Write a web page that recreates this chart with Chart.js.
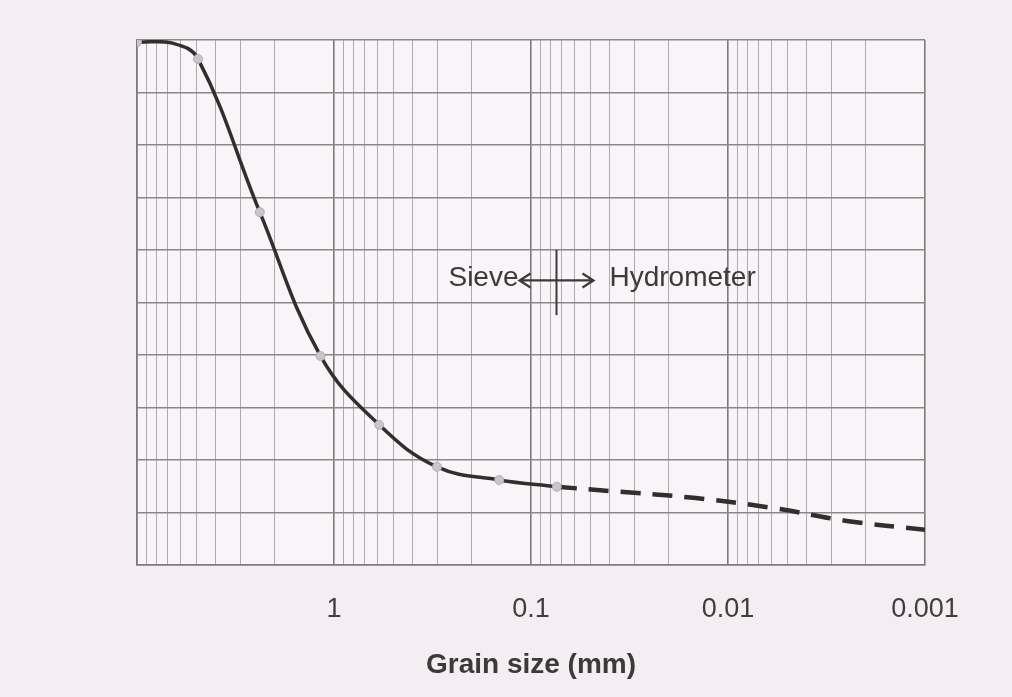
<!DOCTYPE html>
<html><head><meta charset="utf-8">
<script src="https://cdn.jsdelivr.net/npm/chart.js@4.4.1/dist/chart.umd.min.js"></script>
<style>
html,body{margin:0;padding:0;background:#f4edf1;}
#wrap{width:1012px;height:697px;position:relative;}
</style>
</head><body>
<div id="wrap"><canvas id="c" width="1012" height="697"></canvas></div>
<script>
// x tick labels (decades, reversed log axis)
const tickLabels = ['1', '0.1', '0.01', '0.001'];
// sieve analysis points (grain size mm, percent finer)
const sieveSize    = [10, 4.9, 2.38, 1.17, 0.59, 0.30, 0.145, 0.074];
const sievePassing = [99.6, 96.4, 67.2, 39.8, 26.7, 18.7, 16.2, 14.9];
// solid (sieve) curve
const solidSize    = [10, 6.6, 4.9, 2.38, 1.17, 0.59, 0.30, 0.145, 0.074];
const solidPassing = [99.6, 99.4, 96.4, 67.2, 39.8, 26.7, 18.7, 16.2, 14.9];
// dashed (hydrometer) curve
const hydroSize    = [0.074, 0.04, 0.015, 0.006, 0.0025, 0.001];
const hydroPassing = [14.9, 14.1, 12.8, 10.9, 8.4, 6.7];
// sieve / hydrometer boundary annotation
const boundarySize = 0.075;
const boundaryPassing = [47.6, 60];
const boundaryLabelPassing = 54.2;

const toXY = (xs, ys) => xs.map((v, i) => ({x: v, y: ys[i]}));

const isDecade = v => Math.abs(Math.log10(v) - Math.round(Math.log10(v))) < 1e-9;

const deco = {
  id: 'deco',
  beforeDraw(chart) {
    const {ctx, chartArea: a} = chart;
    ctx.save();
    ctx.fillStyle = '#f4edf1';
    ctx.fillRect(0, 0, chart.width, chart.height);
    ctx.fillStyle = '#f8f4f7';
    ctx.fillRect(a.left, a.top, a.right - a.left, a.bottom - a.top);
    ctx.restore();
  },
  afterDraw(chart) {
    const {ctx, scales: {x, y}} = chart;
    const bx = Math.round(x.getPixelForValue(boundarySize)) + 0.5;
    const y0 = y.getPixelForValue(boundaryPassing[0]);
    const y1 = y.getPixelForValue(boundaryPassing[1]);
    const ly = y.getPixelForValue(boundaryLabelPassing);
    ctx.save();
    ctx.strokeStyle = '#3a3a3a';
    ctx.lineWidth = 2;
    ctx.beginPath();
    ctx.moveTo(bx, y1); ctx.lineTo(bx, y0);
    ctx.stroke();
    // double arrow
    const half = 37;
    ctx.lineWidth = 2.2;
    ctx.beginPath();
    ctx.moveTo(bx - half, ly); ctx.lineTo(bx + half, ly);
    ctx.moveTo(bx - half + 11, ly - 7); ctx.lineTo(bx - half, ly); ctx.lineTo(bx - half + 11, ly + 7);
    ctx.moveTo(bx + half - 11, ly - 7); ctx.lineTo(bx + half, ly); ctx.lineTo(bx + half - 11, ly + 7);
    ctx.stroke();
    ctx.fillStyle = '#3a3a3a';
    ctx.font = '28px "Liberation Sans", Arial, sans-serif';
    ctx.textBaseline = 'middle';
    ctx.textAlign = 'right';
    ctx.fillText('Sieve', bx - half - 1, ly - 2);
    ctx.textAlign = 'left';
    ctx.fillText('Hydrometer', bx + 53, ly - 2);
    ctx.restore();
  }
};

new Chart(document.getElementById('c'), {
  type: 'scatter',
  data: {
    datasets: [
      {
        label: 'Sieve points',
        data: toXY(sieveSize, sievePassing),
        showLine: false,
        pointRadius: 4.5,
        pointBackgroundColor: '#c9c5c8',
        pointBorderColor: '#b3afb2',
        pointBorderWidth: 1,
        order: 0
      },
      {
        label: 'Sieve curve',
        data: toXY(solidSize, solidPassing),
        showLine: true,
        pointRadius: 0,
        borderColor: '#2f2f2f',
        borderWidth: 3.5,
        tension: 0.4,
        order: 1
      },
      {
        label: 'Hydrometer curve',
        data: toXY(hydroSize, hydroPassing),
        showLine: true,
        pointRadius: 0,
        borderColor: '#2f2f2f',
        borderWidth: 4.5,
        borderDash: [20, 12],
        tension: 0.4,
        order: 1
      }
    ]
  },
  options: {
    responsive: false,
    animation: false,
    devicePixelRatio: 1,
    layout: {padding: {left: 137, right: 87, top: 40, bottom: 0}},
    plugins: {legend: {display: false}, tooltip: {enabled: false}},
    scales: {
      x: {
        type: 'logarithmic',
        reverse: true,
        min: 0.001,
        max: 10,
        afterBuildTicks(scale) {
          const t = [];
          for (let e = -3; e <= 0; e++) {
            for (let k = 1; k <= 9; k++) t.push({value: +(k * Math.pow(10, e)).toPrecision(6)});
          }
          t.push({value: 10});
          scale.ticks = t;
        },
        afterFit(scale) { scale.height = 132; },
        ticks: {
          autoSkip: false,
          maxRotation: 0,
          minRotation: 0,
          padding: 28,
          color: '#3e3e3e',
          font: {family: '"Liberation Sans", Arial, sans-serif', size: 27},
          callback(value) {
            if (!isDecade(value) || value > 1) return '';
            const i = Math.round(-Math.log10(value));
            return tickLabels[i] ?? '';
          }
        },
        grid: {
          drawTicks: false,
          color: c => (c.tick && isDecade(c.tick.value)) ? '#7d7a7c' : '#aeaaad',
          lineWidth: c => (c.tick && isDecade(c.tick.value)) ? 1.6 : 1
        },
        border: {display: true, color: '#7d7a7c', width: 1.6},
        title: {
          display: true,
          text: 'Grain size (mm)',
          color: '#3a3a3a',
          font: {family: '"Liberation Sans", Arial, sans-serif', size: 28, weight: 'bold'},
          padding: {top: 0, bottom: 15}
        }
      },
      y: {
        min: 0,
        max: 100,
        ticks: {display: false, stepSize: 10},
        afterFit(scale) { scale.width = 0; },
        grid: {drawTicks: false, color: '#8a8789', lineWidth: 1.5},
        border: {display: true, color: '#7d7a7c', width: 1.6}
      }
    }
  },
  plugins: [deco]
});
</script>
</body></html>
